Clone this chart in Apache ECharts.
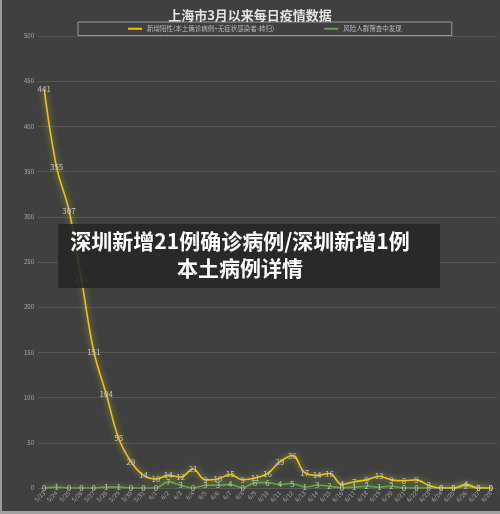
<!DOCTYPE html>
<html><head><meta charset="utf-8">
<script src="https://cdn.jsdelivr.net/npm/echarts@6/dist/echarts.min.js"></script>
<style>html,body{margin:0;padding:0;background:#404040}#c{width:500px;height:514px}</style>
</head><body><div id="c"></div>
<script>
const categories = ['5/23','5/24','5/25','5/26','5/27','5/28','5/29','5/30','5/31','6/1','6/2','6/3','6/4','6/5','6/6','6/7','6/8','6/9','6/10','6/11','6/12','6/13','6/14','6/15','6/16','6/17','6/18','6/19','6/20','6/21','6/22','6/23','6/24','6/25','6/26','6/27','6/28'];
const newPositive = [441,355,307,231,151,104,55,29,14,10,14,12,21,9,10,15,9,11,16,29,36,17,14,16,4,7,9,13,9,8,9,3,0,0,4,0,0];
const screening = [0,1,0,0,0,1,1,0,0,0,7,3,0,3,3,4,0,6,6,4,5,1,3,2,0,1,2,1,2,0,0,0,0,0,2,0,0];
const seriesNames = ['新增阳性(本土确诊病例+无症状感染者-转归)','风险人群筛查中发现'];
const titleText = '上海市3月以来每日疫情数据';
const overlayText = '深圳新增21例确诊病例/深圳新增1例\n本土病例详情';

const chart = echarts.init(document.getElementById('c'), null, {renderer:'canvas'});
const font = '"Noto Sans CJK SC","Noto Sans",sans-serif';
const lbl = {show:true, position:'inside', color:'#c4c4c4', fontSize:8, fontFamily:font};
chart.setOption({
  backgroundColor:'#404040',
  animation:false,
  title:{text:titleText, left:'center', top:4, textStyle:{color:'#e2e2e2', fontSize:13, fontWeight:'bold', fontFamily:font}},
  legend:{top:22, left:78, padding:[3.5,50], itemGap:50, itemWidth:14, itemHeight:2,
    borderColor:'#9a9a9a', borderWidth:1,
    textStyle:{color:'#b8b8b8', fontSize:6.5, fontFamily:font},
    data:[{name:seriesNames[0], icon:'rect'},{name:seriesNames[1], icon:'rect'}]},
  grid:{left:38, right:3, top:36, bottom:26},
  xAxis:{type:'category', data:categories, boundaryGap:true,
    axisLine:{show:false}, axisTick:{show:false},
    axisLabel:{rotate:45, fontSize:6, color:'#a8a8a8', interval:0, margin:4, fontFamily:font}},
  yAxis:{type:'value', min:0, max:500, interval:50,
    axisLine:{show:false}, axisTick:{show:false},
    axisLabel:{fontSize:6, color:'#a8a8a8', margin:4, fontFamily:font},
    splitLine:{lineStyle:{color:'#575757', width:1}}},
  series:[
    {name:seriesNames[0], type:'line', data:newPositive, smooth:0.4, symbol:'circle', symbolSize:0.1, showSymbol:true,
     color:'#f2c300',
     lineStyle:{color:'#f2c300', width:1.6, shadowBlur:6, shadowColor:'rgba(215,225,70,0.75)'},
     label:lbl, z:3},
    {name:seriesNames[1], type:'line', data:screening, smooth:0.2, symbol:'circle', symbolSize:0.1, showSymbol:true,
     color:'#63a83a',
     lineStyle:{color:'#63a83a', width:1.6, shadowBlur:6, shadowColor:'rgba(130,200,70,0.75)'},
     label:lbl, z:2}
  ],
  graphic:[
    {type:'rect', left:0, top:0, shape:{width:2, height:514}, style:{fill:'#9a9a9a'}, z:10},
    {type:'rect', left:0, top:511, shape:{width:500, height:3}, style:{fill:'#a0a0a0'}, z:10},
    {type:'rect', left:58, top:224, shape:{width:382, height:64}, style:{fill:'rgba(38,38,38,0.88)'}, z:20},
    {type:'text', x:240, y:228, style:{text:overlayText, fill:'#ffffff', font:'bold 21px "Noto Sans CJK SC"', textAlign:'center', textVerticalAlign:'top', lineHeight:27}, z:21}
  ]
});
</script></body></html>
